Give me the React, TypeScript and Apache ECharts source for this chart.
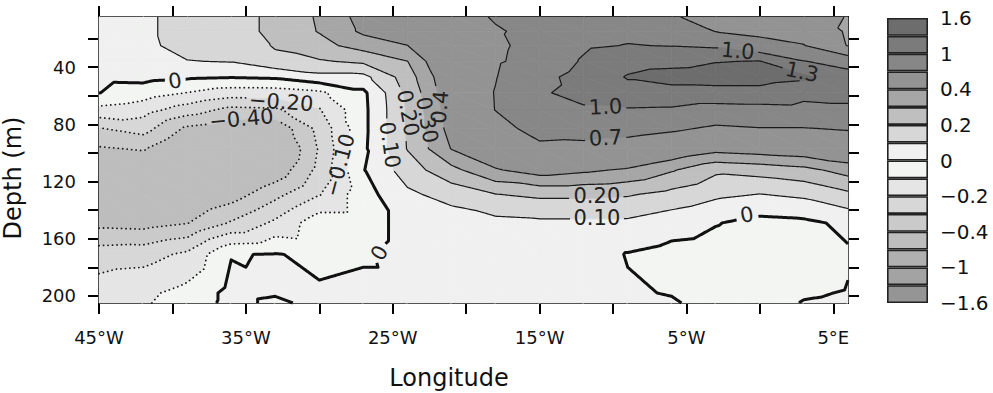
import React, { useEffect, useRef } from 'react';
import * as echarts from 'echarts';

// Grid of the field: longitudes (deg, negative = W) and depths (m)
const lons = [-45, -42, -39, -36, -33, -30, -27, -24, -21, -18, -15, -12, -9, -6, -3, 0, 3, 6];
const depths = [5, 15, 25, 36, 47, 58, 70, 83, 97, 112, 129, 149, 171, 198, 205];

// Field values, one column per longitude, top to bottom by depth
const c45W = [0.06, 0.06, 0.05, 0.04, 0.025, 0.002, -0.13, -0.305, -0.41, -0.47, -0.5, -0.43, -0.25, -0.15, -0.14];
const c42W = [0.085, 0.085, 0.08, 0.06, 0.03, -0.05, -0.16, -0.26, -0.39, -0.49, -0.52, -0.44, -0.24, -0.12, -0.11];
const c39W = [0.13, 0.13, 0.13, 0.097, 0.015, -0.102, -0.25, -0.42, -0.52, -0.56, -0.52, -0.405, -0.18, -0.07, -0.06];
const c36W = [0.13, 0.13, 0.12, 0.105, 0.005, -0.15, -0.33, -0.46, -0.55, -0.57, -0.45, -0.29, -0.005, 0.03, 0.03];
const c33W = [0.24, 0.24, 0.21, 0.17, 0.015, -0.15, -0.32, -0.48, -0.55, -0.47, -0.33, -0.18, 0.005, 0.01, -0.02];
const c30W = [0.31, 0.305, 0.27, 0.19, 0.07, -0.12, -0.21, -0.27, -0.29, -0.27, -0.205, -0.04, -0.02, 0.01, 0.03];
const c27W = [0.44, 0.42, 0.34, 0.22, 0.07, -0.02, -0.025, -0.025, -0.02, -0.005, -0.04, -0.04, -0.01, 0.02, 0.025];
const c24W = [0.52, 0.48, 0.398, 0.298, 0.25, 0.22, 0.21, 0.21, 0.205, 0.15, 0.08, 0.03, 0.03, 0.02, 0.02];
const c21W = [0.6, 0.6, 0.58, 0.54, 0.5, 0.48, 0.46, 0.44, 0.405, 0.27, 0.14, 0.04, 0.03, 0.02, 0.02];
const c18W = [0.72, 0.68, 0.66, 0.67, 0.69, 0.71, 0.705, 0.6, 0.5, 0.39, 0.198, 0.07, 0.04, 0.03, 0.03];
const c15W = [0.76, 0.76, 0.78, 0.8, 0.92, 0.97, 0.92, 0.8, 0.64, 0.45, 0.22, 0.08, 0.05, 0.04, 0.04];
const c12W = [0.85, 0.9, 0.96, 1.03, 1.1, 1.08, 0.967, 0.82, 0.62, 0.42, 0.22, 0.08, 0.05, 0.04, 0.04];
const c9W = [0.88, 0.94, 1.01, 1.2, 1.32, 1.2, 0.974, 0.8, 0.57, 0.385, 0.21, 0.08, -0.005, 0.01, 0.01];
const c6W = [0.72, 0.85, 0.99, 1.22, 1.4, 1.2, 0.96, 0.74, 0.5, 0.31, 0.17, 0.04, -0.03, -0.005, 0.01];
const c3W = [0.62, 0.695, 0.95, 1.29, 1.42, 1.2, 0.88, 0.66, 0.44, 0.22, 0.12, 0.005, -0.04, -0.04, -0.035];
const c0 = [0.55, 0.66, 0.76, 1.31, 1.42, 1.2, 0.9, 0.69, 0.46, 0.24, 0.098, -0.03, -0.06, -0.05, -0.045];
const c3E = [0.5, 0.6, 0.71, 1.01, 1.36, 1.08, 0.92, 0.69, 0.48, 0.27, 0.12, -0.02, -0.06, -0.01, 0.005];
const c6E = [0.39, 0.37, 0.39, 0.88, 1.12, 1.08, 0.95, 0.72, 0.52, 0.34, 0.18, 0.02, -0.01, 0.005, 0.015];
const columns = [c45W, c42W, c39W, c36W, c33W, c30W, c27W, c24W, c21W, c18W, c15W, c12W, c9W, c6W, c3W, c0, c3E, c6E];

// Contour / shading levels (bottom to top) and band colours (band i lies between levels i and i+1)
const levels = [-1.6, -1.3, -1, -0.7, -0.4, -0.3, -0.2, -0.1, 0, 0.1, 0.2, 0.3, 0.4, 0.7, 1, 1.3, 1.6];
const bandColors = [
  '#959595', '#a3a3a3', '#b0b0b0', '#bdbdbd', '#cacaca', '#d7d7d7', '#e5e5e5', '#f3f5f3',
  '#eff0ef', '#d7d7d7', '#bfbfbf', '#a6a6a6', '#939393', '#878787', '#7b7b7b', '#6d6d6d',
];
const colorbarLabels = ['\u22121.6', '', '\u22121', '', '\u22120.4', '', '\u22120.2', '', '0', '', '0.2', '', '0.4', '', '1', '', '1.6'];

// Axis ticks and labels
const lonTicks = [-45, -40, -35, -30, -25, -20, -15, -10, -5, 0, 5];
const lonLabels = [-45, -35, -25, -15, -5, 5];
const depthTicks = [20, 40, 60, 80, 100, 120, 140, 160, 180, 200];
const depthLabels = [40, 80, 120, 160, 200];

// Contour labels: text, position (lon, depth), angle in degrees
const contourLabels = [
  { text: '0', lon: -39.83, depth: 49.8, rot: 9 },
  { text: '\u22120.20', lon: -32.6, depth: 64.4, rot: -4 },
  { text: '\u22120.40', lon: -35.3, depth: 76.3, rot: 5 },
  { text: '\u22120.10', lon: -28.6, depth: 108.5, rot: 75 },
  { text: '0', lon: -25.9, depth: 170, rot: 60 },
  { text: '0.10', lon: -25.2, depth: 94.5, rot: -82 },
  { text: '0.20', lon: -23.96, depth: 72.1, rot: -80 },
  { text: '0.30', lon: -22.67, depth: 77, rot: -80 },
  { text: '0.4', lon: -21.78, depth: 68, rot: 85 },
  { text: '0', lon: -0.88, depth: 143.5, rot: 10 },
  { text: '0.20', lon: -11.1, depth: 130.3, rot: 0 },
  { text: '0.10', lon: -11.1, depth: 145.6, rot: 0 },
  { text: '0.7', lon: -10.5, depth: 89.6, rot: 3 },
  { text: '1.0', lon: -10.5, depth: 67.9, rot: 3 },
  { text: '1.0', lon: -1.5, depth: 28.8, rot: -5 },
  { text: '1.3', lon: 2.87, depth: 43.5, rot: -12 },
];

const FONT = 'DejaVu Sans';
const LABEL_SIZE = 21;

function textWidth(t: string, size: number) {
  let w = 0;
  for (const ch of t) {
    if (ch >= '0' && ch <= '9') w += 0.636;
    else if (ch === '.') w += 0.318;
    else if (ch === '\u2212') w += 0.838;
    else w += 0.6;
  }
  return w * size;
}

function clipPoly(poly: number[][], g: (v: number) => number) {
  const out: number[][] = [];
  for (let i = 0; i < poly.length; i++) {
    const A = poly[i];
    const B = poly[(i + 1) % poly.length];
    const ga = g(A[2]);
    const gb = g(B[2]);
    if (ga >= 0) out.push(A);
    if ((ga >= 0) !== (gb >= 0)) {
      const t = ga / (ga - gb);
      out.push([A[0] + t * (B[0] - A[0]), A[1] + t * (B[1] - A[1]), A[2] + t * (B[2] - A[2])]);
    }
  }
  return out;
}

function renderField(params: any, api: any) {
  const nx = lons.length;
  const ny = depths.length;
  const vx: number[] = [];
  const vy: number[] = [];
  const vv: number[] = [];
  for (let j = 0; j < ny; j++) {
    for (let i = 0; i < nx; i++) {
      const p = api.coord([lons[i], depths[j]]);
      vx.push(p[0]);
      vy.push(p[1]);
      vv.push(columns[i][j]);
    }
  }
  const tris: number[][] = [];
  for (let j = 0; j < ny - 1; j++) {
    for (let i = 0; i < nx - 1; i++) {
      const a = j * nx + i;
      const b = a + 1;
      const c = a + nx;
      const d = c + 1;
      tris.push([a, b, d], [a, d, c]);
    }
  }
  const children: any[] = [];
  const nb = levels.length - 1;
  // filled bands
  for (const tri of tris) {
    const poly = tri.map((k) => [vx[k], vy[k], vv[k]]);
    const vmin = Math.min(...tri.map((k) => vv[k]));
    const vmax = Math.max(...tri.map((k) => vv[k]));
    for (let b = 0; b < nb; b++) {
      const lo = b === 0 ? -Infinity : levels[b];
      const hi = b === nb - 1 ? Infinity : levels[b + 1];
      if (vmax < lo || vmin > hi) continue;
      let p = poly;
      if (isFinite(lo)) p = clipPoly(p, (v) => v - lo);
      if (p.length >= 3 && isFinite(hi)) p = clipPoly(p, (v) => hi - v);
      if (p.length < 3) continue;
      children.push({
        type: 'polygon',
        silent: true,
        shape: { points: p.map((q) => [q[0], q[1]]) },
        style: { fill: bandColors[b], stroke: bandColors[b], lineWidth: 0.7 },
      });
    }
  }
  // label gap boxes
  const gaps = contourLabels.map((lab) => {
    const c = api.coord([lab.lon, lab.depth]);
    const r = (lab.rot * Math.PI) / 180;
    return {
      level: parseFloat(lab.text.replace('\u2212', '-')),
      cx: c[0], cy: c[1], c: Math.cos(r), s: Math.sin(r),
      hw: textWidth(lab.text, LABEL_SIZE) / 2 + 3, hh: 9,
    };
  });
  // contour lines
  const lineLevels = levels.slice(1, levels.length - 1);
  for (const L of lineLevels) {
    const segs: { k: string[]; p: number[][] }[] = [];
    for (const tri of tris) {
      const pts: number[][] = [];
      const keys: string[] = [];
      for (let e = 0; e < 3; e++) {
        const u = tri[e];
        const w = tri[(e + 1) % 3];
        const fu = vv[u];
        const fw = vv[w];
        if ((fu >= L) !== (fw >= L)) {
          const t = (L - fu) / (fw - fu);
          pts.push([vx[u] + t * (vx[w] - vx[u]), vy[u] + t * (vy[w] - vy[u])]);
          keys.push(u < w ? u + '_' + w : w + '_' + u);
        }
      }
      if (pts.length === 2) segs.push({ k: keys, p: pts });
    }
    if (!segs.length) continue;
    const byKey = new Map<string, number[]>();
    segs.forEach((s, i) => s.k.forEach((k) => {
      if (!byKey.has(k)) byKey.set(k, []);
      byKey.get(k)!.push(i);
    }));
    const used = new Array(segs.length).fill(false);
    const lines: number[][][] = [];
    for (let i = 0; i < segs.length; i++) {
      if (used[i]) continue;
      used[i] = true;
      const line = [segs[i].p[0], segs[i].p[1]];
      let key = segs[i].k[1];
      for (;;) {
        const nxt = (byKey.get(key) || []).find((j) => !used[j]);
        if (nxt === undefined) break;
        used[nxt] = true;
        const s = segs[nxt];
        if (s.k[0] === key) { line.push(s.p[1]); key = s.k[1]; } else { line.push(s.p[0]); key = s.k[0]; }
      }
      key = segs[i].k[0];
      for (;;) {
        const nxt = (byKey.get(key) || []).find((j) => !used[j]);
        if (nxt === undefined) break;
        used[nxt] = true;
        const s = segs[nxt];
        if (s.k[0] === key) { line.unshift(s.p[1]); key = s.k[1]; } else { line.unshift(s.p[0]); key = s.k[0]; }
      }
      lines.push(line);
    }
    const myGaps = gaps.filter((g) => Math.abs(g.level - L) < 1e-9);
    const inside = (x: number, y: number) => myGaps.some((g) => {
      const dx = x - g.cx;
      const dy = y - g.cy;
      const u = dx * g.c - dy * g.s;
      const v = dx * g.s + dy * g.c;
      return Math.abs(u) < g.hw && Math.abs(v) < g.hh;
    });
    let style: any;
    if (L < 0) style = { stroke: '#1a1a1a', lineWidth: 1.8, lineDash: [0.1, 4.4], lineCap: 'round', fill: null };
    else if (L === 0) style = { stroke: '#111', lineWidth: 3, lineJoin: 'round', fill: null };
    else style = { stroke: '#1a1a1a', lineWidth: 1.2, lineJoin: 'round', fill: null };
    for (const line of lines) {
      let pieces: number[][][] = [line];
      if (myGaps.length) {
        pieces = [];
        let cur: number[][] = [];
        for (let i = 0; i < line.length; i++) {
          const p = line[i];
          if (i === 0) {
            if (!inside(p[0], p[1])) cur.push(p);
            continue;
          }
          const q = line[i - 1];
          const d = Math.hypot(p[0] - q[0], p[1] - q[1]);
          const n = Math.max(1, Math.ceil(d / 1.5));
          for (let k = 1; k <= n; k++) {
            const x = q[0] + ((p[0] - q[0]) * k) / n;
            const y = q[1] + ((p[1] - q[1]) * k) / n;
            if (inside(x, y)) {
              if (cur.length > 1) pieces.push(cur);
              cur = [];
            } else cur.push([x, y]);
          }
        }
        if (cur.length > 1) pieces.push(cur);
      }
      for (const pc of pieces) {
        children.push({ type: 'polyline', silent: true, shape: { points: pc }, style });
      }
    }
  }
  // contour labels
  for (const g of contourLabels) {
    const c = api.coord([g.lon, g.depth]);
    children.push({
      type: 'text',
      silent: true,
      x: c[0],
      y: c[1],
      rotation: (g.rot * Math.PI) / 180,
      style: {
        text: g.text, fill: '#222', fontSize: LABEL_SIZE, fontFamily: FONT,
        align: 'center', verticalAlign: 'middle',
      },
    });
  }
  return { type: 'group', children };
}

const fmtLon = (v: number) => (v < 0 ? `${-v}\u00b0W` : v > 0 ? `${v}\u00b0E` : '0\u00b0');

export default function App() {
  const ref = useRef<HTMLDivElement>(null);
  useEffect(() => {
    if (!ref.current) return;
    const chart = echarts.init(ref.current, undefined, { renderer: 'svg' });
    const axisLine = { show: true, onZero: false, lineStyle: { color: '#000', width: 2 } };
    const tick = (vals: number[]) => ({ show: true, customValues: vals, length: 11, lineStyle: { color: '#000', width: 2 } });
    const option: any = {
      animation: false,
      textStyle: { fontFamily: FONT },
      grid: [
        { left: 99, top: 17, width: 749, height: 286 },
        { left: 887, top: 18, width: 41, height: 285 },
      ],
      xAxis: [
        {
          type: 'value', gridIndex: 0, min: -45, max: 6, position: 'bottom',
          axisLine, axisTick: tick(lonTicks), splitLine: { show: false },
          axisLabel: { customValues: lonLabels, formatter: fmtLon, margin: 25, fontSize: 18, color: '#111', fontFamily: FONT },
        },
        {
          type: 'value', gridIndex: 0, min: -45, max: 6, position: 'top',
          axisLine, axisTick: tick(lonTicks), splitLine: { show: false }, axisLabel: { show: false },
        },
        { type: 'category', gridIndex: 1, data: ['cb'], show: false },
      ],
      yAxis: [
        {
          type: 'value', gridIndex: 0, min: 5, max: 205, inverse: true, position: 'left',
          axisLine, axisTick: tick(depthTicks), splitLine: { show: false },
          axisLabel: { customValues: depthLabels, margin: 23, fontSize: 18, color: '#111', fontFamily: FONT },
        },
        {
          type: 'value', gridIndex: 0, min: 5, max: 205, inverse: true, position: 'right',
          axisLine, axisTick: tick(depthTicks), splitLine: { show: false }, axisLabel: { show: false },
        },
        {
          type: 'value', gridIndex: 1, min: 0, max: 16, position: 'right',
          axisLine: { show: false }, axisTick: { show: false }, splitLine: { show: false },
          axisLabel: {
            customValues: [0, 2, 4, 6, 8, 10, 12, 14, 16],
            formatter: (v: number) => colorbarLabels[Math.round(v)] || '',
            margin: 12, fontSize: 20, color: '#111', fontFamily: FONT,
          },
        },
      ],
      series: [
        { type: 'custom', xAxisIndex: 0, yAxisIndex: 0, data: [[0, 100]], renderItem: renderField, silent: true },
        ...bandColors.map((c) => ({
          type: 'bar', xAxisIndex: 2, yAxisIndex: 2, stack: 'cb', data: [1], barWidth: '100%', silent: true,
          itemStyle: { color: c, borderColor: '#222', borderWidth: 1.6 },
        })),
      ],
      graphic: [
        {
          type: 'text', x: 13, y: 178, rotation: Math.PI / 2, silent: true,
          style: { text: 'Depth (m)', fill: '#111', fontSize: 24, fontFamily: FONT, align: 'center', verticalAlign: 'middle' },
        },
        {
          type: 'text', x: 449, y: 378, silent: true,
          style: { text: 'Longitude', fill: '#111', fontSize: 24, fontFamily: FONT, align: 'center', verticalAlign: 'middle' },
        },
      ],
    };
    chart.setOption(option);
    return () => chart.dispose();
  }, []);
  return <div ref={ref} style={{ position: 'absolute', left: 0, top: 0, width: 993, height: 393 }} />;
}
